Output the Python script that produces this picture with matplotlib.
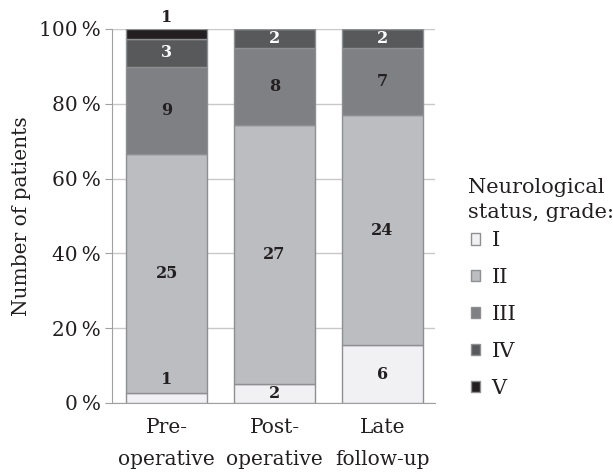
import numpy as np
import matplotlib.pyplot as plt
from matplotlib.patches import Patch

plt.rcParams['font.family'] = ['DejaVu Serif']

groups = ['Pre-\noperative', 'Post-\noperative', 'Late\nfollow-up']
grades = ['I', 'II', 'III', 'IV', 'V']
grade_I = [1, 2, 6]
grade_II = [25, 27, 24]
grade_III = [9, 8, 7]
grade_IV = [3, 2, 2]
grade_V = [1, 0, 0]

colors = ['#f1f1f3', '#bcbdc1', '#7f8084', '#58595b', '#231f20']
label_colors = ['#231f20', '#231f20', '#231f20', 'white', '#231f20']
ink = '#231f20'

counts = np.array([grade_I, grade_II, grade_III, grade_IV, grade_V], dtype=float)
totals = counts.sum(axis=0)
pct = counts / totals * 100

fig = plt.figure(figsize=(6.13, 4.75), dpi=100)
ax = fig.add_axes([0.183, 0.152, 0.527, 0.787])

x = np.arange(len(groups))
bottom = np.zeros(len(groups))
for k in range(len(grades)):
    ax.bar(x, pct[k], 0.75, bottom=bottom, color=colors[k],
           edgecolor='#8e8f92', linewidth=1.0, zorder=3)
    for j in range(len(groups)):
        if counts[k, j] == 0:
            continue
        mid = bottom[j] + pct[k, j] / 2
        txt = str(int(counts[k, j]))
        if pct[k, j] < 4:
            # thin segment: put label above it
            top = bottom[j] + pct[k, j]
            ax.annotate(txt, (x[j], top), xytext=(0, 2 if k == 4 else 4),
                        textcoords='offset points', ha='center', va='bottom',
                        fontsize=11.5, fontweight='bold', color=ink, zorder=5)
        else:
            ax.text(x[j], mid, txt, ha='center', va='center', fontsize=11.5,
                    fontweight='bold', color=label_colors[k], zorder=5)
    bottom += pct[k]

ax.set_xlim(-0.505, 2.49)
ax.set_ylim(0, 100)
ax.set_yticks(np.arange(0, 101, 20))
ax.set_yticklabels(['{}\u2009%'.format(v) for v in range(0, 101, 20)])
ax.set_xticks(x)
ax.set_xticklabels(groups, linespacing=1.85)
ax.tick_params(axis='y', labelsize=14.5, length=5, color='#a0a0a0', labelcolor=ink, pad=3)
ax.tick_params(axis='x', labelsize=14.5, length=0, labelcolor=ink, pad=11)
ax.yaxis.grid(True, color='#c8c8c8', linewidth=1.0, zorder=0)
for s in ['top', 'right']:
    ax.spines[s].set_visible(False)
ax.spines['left'].set_color('#a0a0a0')
ax.spines['bottom'].set_color('#a0a0a0')
ax.set_ylabel('Number of patients', fontsize=14.5, color=ink, labelpad=6)

# legend title drawn separately so its gap to the entries can be set
fig.text(0.763, 0.625, 'Neurological\nstatus, grade:', fontsize=15, color=ink,
         ha='left', va='top', linespacing=1.42)
handles = [Patch(facecolor=colors[k], edgecolor='#8e8f92', linewidth=1.0) for k in range(len(grades))]
leg = fig.legend(handles, grades, loc='upper left', bbox_to_anchor=(0.768, 0.513),
                 frameon=False, fontsize=15, handlelength=0.45,
                 handleheight=0.45, handletextpad=0.55, labelspacing=0.86,
                 borderpad=0, borderaxespad=0)
for t in leg.get_texts():
    t.set_color(ink)

plt.savefig('out.png', dpi=100)
